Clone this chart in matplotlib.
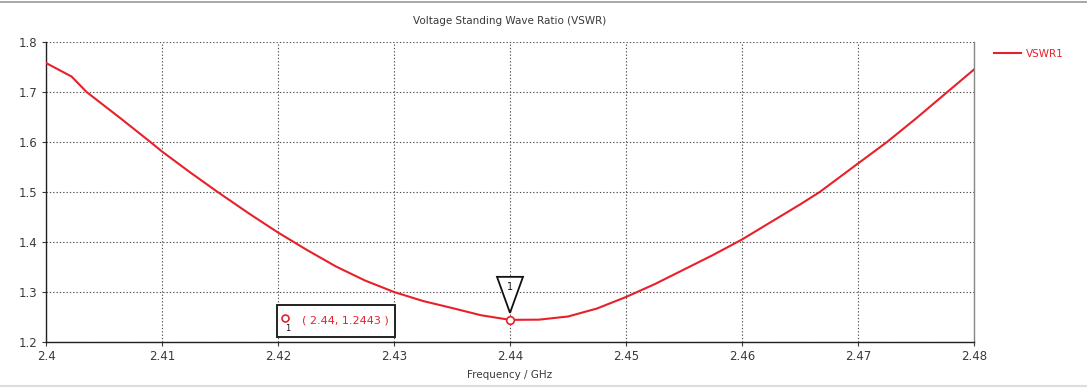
import matplotlib
matplotlib.use("Agg")
import matplotlib.pyplot as plt
from matplotlib.patches import Polygon, Rectangle
from matplotlib.lines import Line2D
from matplotlib.transforms import ScaledTranslation

# Sweep data (GHz, VSWR)
freq_ghz = [2.400, 2.4022, 2.4035, 2.4065, 2.409, 2.410, 2.4125, 2.4148, 2.4175,
            2.420, 2.4225, 2.425, 2.4275, 2.430, 2.4325, 2.435, 2.4375, 2.440,
            2.4425, 2.445, 2.4475, 2.450, 2.4525, 2.455, 2.4575, 2.460, 2.4625,
            2.465, 2.4667, 2.470, 2.4725, 2.475, 2.4777, 2.480]
vswr = [1.758, 1.731, 1.700, 1.646, 1.600, 1.581, 1.538, 1.500, 1.457,
        1.419, 1.384, 1.351, 1.323, 1.300, 1.282, 1.268, 1.2535, 1.2443,
        1.2447, 1.251, 1.267, 1.290, 1.316, 1.345, 1.374, 1.405, 1.440,
        1.475, 1.500, 1.557, 1.600, 1.647, 1.700, 1.745]

marker_f = 2.44
marker_v = 1.2443
series_name = "VSWR1"

x_ticks = [2.40, 2.41, 2.42, 2.43, 2.44, 2.45, 2.46, 2.47, 2.48]
x_labels = ["2.4", "2.41", "2.42", "2.43", "2.44", "2.45", "2.46", "2.47", "2.48"]
y_ticks = [1.2, 1.3, 1.4, 1.5, 1.6, 1.7, 1.8]
y_labels = ["1.2", "1.3", "1.4", "1.5", "1.6", "1.7", "1.8"]

RED = "#e8202a"
TXT = "#3a3a3a"

plt.rcParams["font.family"] = ["DejaVu Sans"]

fig = plt.figure(figsize=(10.87, 3.88), dpi=100)
ax = fig.add_axes([46 / 1087, 1 - 342 / 388, 928 / 1087, 300 / 388])

ax.plot(freq_ghz, vswr, color=RED, lw=1.5, label=series_name, zorder=3,
        solid_joinstyle="round")

ax.set_xlim(2.40, 2.48)
ax.set_ylim(1.2, 1.8)
ax.set_xticks(x_ticks)
ax.set_xticklabels(x_labels)
ax.set_yticks(y_ticks)
ax.set_yticklabels(y_labels)
ax.tick_params(axis="both", labelsize=8.5, colors=TXT, length=3, width=0.8, pad=3)
ax.grid(True, color="#505050", linestyle=(0, (1.2, 1.8)), linewidth=0.8)

for side in ("left", "bottom"):
    ax.spines[side].set_color("#222222")
    ax.spines[side].set_linewidth(1.0)
ax.spines["right"].set_color("#888888")
ax.spines["right"].set_linewidth(1.0)
ax.spines["top"].set_visible(False)

ax.set_xlabel("Frequency / GHz", fontsize=7.5, color=TXT, labelpad=5)
ax.set_title("Voltage Standing Wave Ratio (VSWR)", fontsize=7.5, color=TXT, pad=13)

# Marker point on the curve
ax.plot([marker_f], [marker_v], marker="o", ms=5.5, mfc="white", mec=RED,
        mew=1.2, zorder=4, clip_on=False)

# Inverted triangle flag above the marker
flag_tr = fig.dpi_scale_trans + ScaledTranslation(marker_f, marker_v, ax.transData)
ax.add_patch(Polygon([(0, 0.07), (-0.13, 0.43), (0.13, 0.43)], closed=True,
                     fill=True, facecolor="white", edgecolor="#111111", lw=1.3,
                     transform=flag_tr, zorder=5, clip_on=False))
ax.text(0, 0.33, "1", transform=flag_tr, ha="center", va="center",
        fontsize=7, color="#111111", zorder=6)

# Marker readout box
ax.add_patch(Rectangle((0.2493, 0.0177), 0.1268, 0.1056, transform=ax.transAxes,
                       facecolor="white", edgecolor="#222222", lw=1.4, zorder=5))
ax.plot([0.2575], [0.08], marker="o", ms=5, mfc="white", mec=RED, mew=1.2,
        transform=ax.transAxes, zorder=6)
ax.text(0.2605, 0.045, "1", transform=ax.transAxes, ha="center", va="center",
        fontsize=6, color="#111111", zorder=6)
ax.text(0.3222, 0.0733, "( %.2f, %.4f )" % (marker_f, marker_v), transform=ax.transAxes,
        ha="center", va="center", fontsize=8, color=RED, zorder=6)

# Legend to the right of the plot
fig.legend(handles=[Line2D([], [], color=RED, lw=1.5)], labels=[series_name],
           loc="center left", bbox_to_anchor=(985 / 1087, 1 - 54 / 388),
           frameon=False, fontsize=7.5, handlelength=2.6, handletextpad=0.4,
           labelcolor=RED)

# Thin frame lines across the figure
fig.add_artist(Line2D([0, 1], [1 - 2 / 388, 1 - 2 / 388], transform=fig.transFigure,
                      color="#999999", lw=1.2))
fig.add_artist(Line2D([0, 1], [2 / 388, 2 / 388], transform=fig.transFigure,
                      color="#dddddd", lw=1.5))

fig.savefig("out.png", dpi=100)
